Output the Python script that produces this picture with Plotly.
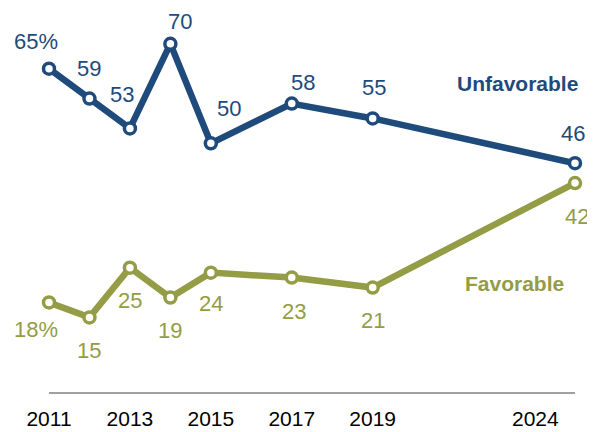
import plotly.graph_objects as go

years = [2011, 2012, 2013, 2014, 2015, 2017, 2019, 2024]
unfavorable = [65, 59, 53, 70, 50, 58, 55, 46]
favorable = [18, 15, 25, 19, 24, 23, 21, 42]
unfav_labels = ["65%", "59", "53", "70", "50", "58", "55", "46"]
fav_labels = ["18%", "15", "25", "19", "24", "23", "21", "42"]
tick_years = [2011, 2013, 2015, 2017, 2019, 2024]

BLUE = "#1F4A7C"
OLIVE = "#949C45"
FONT = "Liberation Sans, Arial"

# label offsets in pixels (style only)
unfav_off = [(-13, 27), (0, 30), (-8, 34), (10, 22), (18, 35), (11, 21), (1, 31), (-2, 30)]
fav_off = [(-13, -27), (0, -33), (0, -33), (0, -33), (0, -31), (2, -34), (0, -33), (2, -33)]

fig = go.Figure()
for vals, col in [(unfavorable, BLUE), (favorable, OLIVE)]:
    fig.add_trace(go.Scatter(
        x=years, y=vals, mode="lines+markers",
        line=dict(color=col, width=6.5),
        marker=dict(size=11, color="white", line=dict(color=col, width=3.5)),
        cliponaxis=False, hoverinfo="skip", showlegend=False,
    ))

ann = []
for x, y, t, (dx, dy) in zip(years, unfavorable, unfav_labels, unfav_off):
    ann.append(dict(x=x, y=y, text=t, showarrow=False, xshift=dx, yshift=dy,
                    font=dict(color=BLUE, size=22, family=FONT)))
for x, y, t, (dx, dy) in zip(years, favorable, fav_labels, fav_off):
    ann.append(dict(x=x, y=y, text=t, showarrow=False, xshift=dx, yshift=dy,
                    font=dict(color=OLIVE, size=22, family=FONT)))
ann.append(dict(x=0.89, xref="paper", xanchor="center", y=62, text="<b>Unfavorable</b>",
                showarrow=False, font=dict(color=BLUE, size=21, family=FONT)))
ann.append(dict(x=0.885, xref="paper", xanchor="center", y=21.8, text="<b>Favorable</b>",
                showarrow=False, font=dict(color=OLIVE, size=21, family=FONT)))

# last year's tick label sits left of its tick (as in the original)
tick_text = [str(y) for y in tick_years[:-1]] + [""]
ann.append(dict(x=tick_years[-1], y=0, yref="y", text=str(tick_years[-1]), showarrow=False,
                xshift=-40, yshift=-26, font=dict(color="black", size=21, family=FONT)))

# page body has an 8px margin, so the figure is sized/offset to compensate
fig.update_layout(
    width=587, height=424,
    margin=dict(l=41, r=20, t=6, b=40, autoexpand=False),
    paper_bgcolor="white", plot_bgcolor="white",
    annotations=ann,
    xaxis=dict(range=[2011, 2024], tickvals=tick_years, ticktext=tick_text,
               showgrid=False, zeroline=False, showline=True, linecolor="#A0A0A0", linewidth=2,
               ticks="", automargin=False,
               tickfont=dict(size=21, color="black", family=FONT),
               ticklabelstandoff=7),
    yaxis=dict(range=[0, 76], visible=False, showgrid=False, zeroline=False, automargin=False),
)
fig.write_html("out.html")
